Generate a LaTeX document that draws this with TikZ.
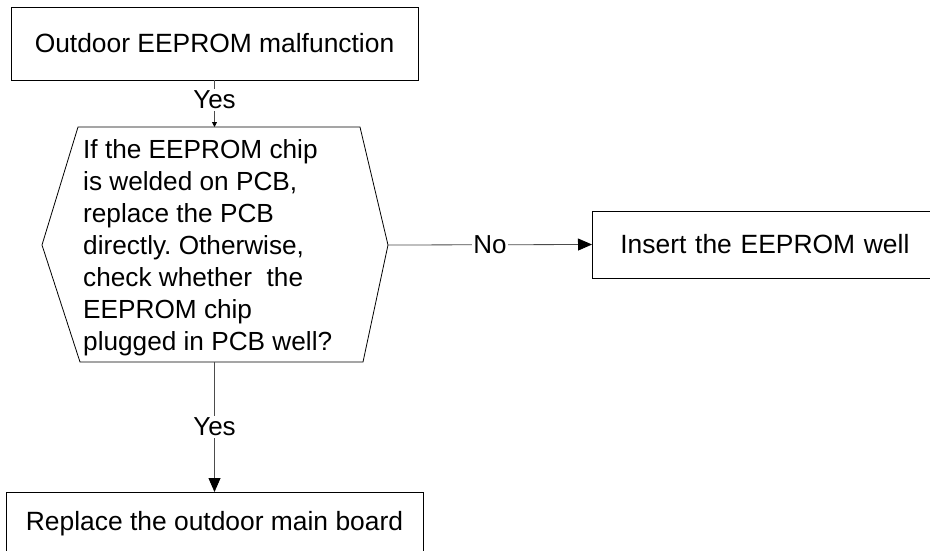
\documentclass[tikz,border=0pt]{standalone}
\usepackage{fontspec}
\setmainfont{Liberation Sans}
\usetikzlibrary{arrows.meta}
\begin{document}
\frenchspacing
\begin{tikzpicture}[x=1pt,y=-1pt,
  box/.style={draw=black, line width=0.8pt, font=\fontsize{26.4}{32}\selectfont, inner sep=0pt},
  qtext/.style={font=\fontsize{26.2}{32}\selectfont, align=left, inner sep=0pt},
  conn/.style={draw=black!70, line width=0.8pt},
  lbl/.style={fill=white, font=\fontsize{26}{32}\selectfont, inner sep=1.5pt},
  bighead/.style={-{Triangle[length=14pt,width=12pt,color=black]}},
  smallhead/.style={-{Triangle[length=5pt,width=5pt,color=black]}}]
\useasboundingbox (0,0) rectangle (930,550);
\clip (0,0) rectangle (930,550);
\fill[white] (0,0) rectangle (930,550);

\node[box, minimum width=407pt, minimum height=73pt] (top) at (214.5,43.5) {Outdoor EEPROM malfunction};

\draw[line width=0.8pt] (78,127) coordinate (hTL) -- (360,127) coordinate (hTR)
  -- (388,245) coordinate (hR) -- (363,362) coordinate (hBR)
  -- (80,362) coordinate (hBL) -- (42,245) coordinate (hL) -- cycle;
\coordinate (hT) at (214.5,127);
\coordinate (hB) at (214.5,362);
\node[qtext, anchor=north west] (q) at (83,139) {If the EEPROM chip\\is welded on PCB,\\replace the PCB\\directly. Otherwise,\\check whether~ the\\EEPROM chip\\plugged in PCB well?};

\node[box, anchor=west, minimum height=67pt, text width=302pt, align=left, inner xsep=28pt] (ins) at (592,244.5) {Insert the EEPROM well};

\node[box, anchor=north, minimum width=417pt, minimum height=62pt] (rep) at (214.5,492) {Replace the outdoor main board};

\draw[conn, smallhead] (top.south) -- node[lbl, pos=0.42] {Yes} (hT);
\draw[conn, bighead] (hR) -- node[lbl] {No} (ins.west);
\draw[conn, bighead] (hB) -- node[lbl] {Yes} (rep.north);
\end{tikzpicture}
\end{document}
